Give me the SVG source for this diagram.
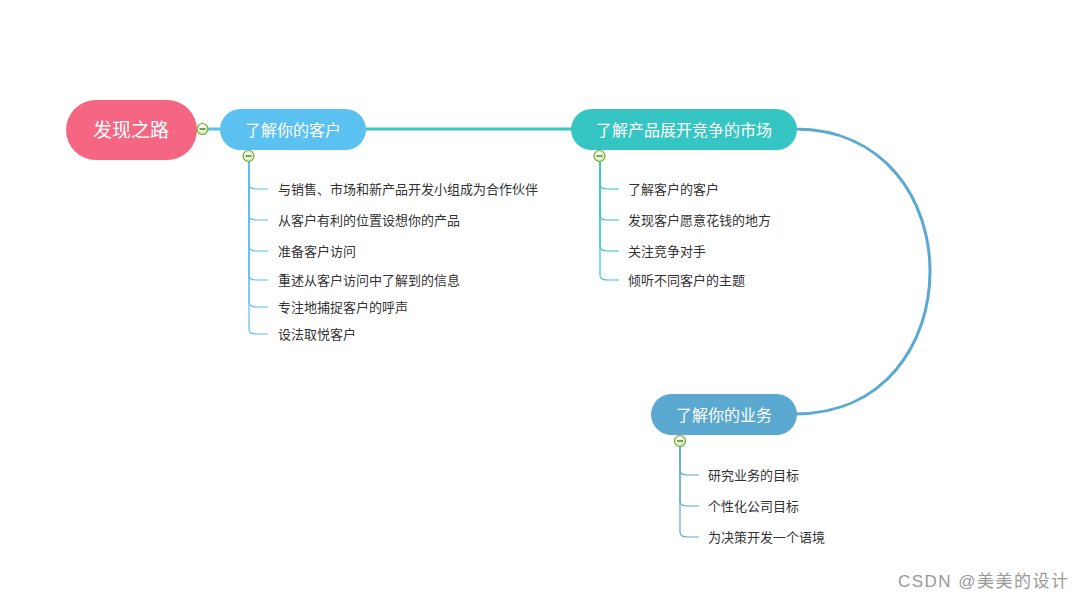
<svg xmlns="http://www.w3.org/2000/svg" width="1084" height="600" viewBox="0 0 1084 600">
<style>
.nt{font-family:"Liberation Sans","Noto Sans CJK SC",sans-serif;fill:#fff;text-anchor:middle;dominant-baseline:central}
.ct{font-family:"Liberation Sans","Noto Sans CJK SC",sans-serif;fill:#333;font-size:13px;dominant-baseline:central}
.br{fill:none;stroke-width:1.2}
.tg circle{fill:url(#g);stroke:#6AAB2E;stroke-width:1.2}
.tg line{stroke:#3d6e16;stroke-width:1.3}
</style>
<defs>
<radialGradient id="g" cx="0.4" cy="0.35" r="0.7"><stop offset="0" stop-color="#ffffff"/><stop offset="1" stop-color="#cfe8b0"/></radialGradient>
</defs>
<rect width="1084" height="600" fill="#fff"/>
<g id="connectors">
<line x1="197" y1="129" x2="222" y2="129" stroke="#5BC0F0" stroke-width="3"/>
<line x1="364" y1="129" x2="573" y2="129" stroke="#37C6C0" stroke-width="3"/>
<path d="M795,129 C975,129 975,414 795,414" fill="none" stroke="#5AA9D3" stroke-width="3"/>
<g class="br" stroke="#5BC0F0">
<path d="M249,162 V184 Q249,189 256,189 H268"/>
<path d="M249,162 V215 Q249,220 256,220 H268"/>
<path d="M249,162 V246 Q249,251 256,251 H268"/>
<path d="M249,162 V275 Q249,280 256,280 H268"/>
<path d="M249,162 V302 Q249,307 256,307 H268"/>
<path d="M249,162 V329 Q249,334 256,334 H268"/>
</g>
<g class="br" stroke="#37C6C0">
<path d="M600,162 V184 Q600,189 607,189 H619"/>
<path d="M600,162 V215 Q600,220 607,220 H619"/>
<path d="M600,162 V246 Q600,251 607,251 H619"/>
<path d="M600,162 V275 Q600,280 607,280 H619"/>
</g>
<g class="br" stroke="#5BA8D0">
<path d="M680,447 V470 Q680,475 687,475 H699"/>
<path d="M680,447 V501 Q680,506 687,506 H699"/>
<path d="M680,447 V532 Q680,537 687,537 H699"/>
</g>
</g>
<g id="root">
<rect x="66" y="100" width="131" height="60" rx="30" fill="#F46681"/>
<text class="nt" x="131" y="130" font-size="19">发现之路</text>
</g>
<g id="node1">
<rect x="220" y="109" width="146" height="41" rx="20.5" fill="#5BC1F1"/>
<text class="nt" x="293" y="130" font-size="16">了解你的客户</text>
</g>
<g id="node2">
<rect x="571" y="109" width="226" height="41" rx="20.5" fill="#35C6C3"/>
<text class="nt" x="684" y="130" font-size="16">了解产品展开竞争的市场</text>
</g>
<g id="node3">
<rect x="651" y="394" width="146" height="41" rx="20.5" fill="#5BA9D1"/>
<text class="nt" x="724" y="415" font-size="16">了解你的业务</text>
</g>
<g id="toggles" class="tg">
<circle cx="202.5" cy="129" r="5.5"/><line x1="199.5" y1="129" x2="205.5" y2="129"/>
<circle cx="248.5" cy="156" r="5.5"/><line x1="245.5" y1="156" x2="251.5" y2="156"/>
<circle cx="599.5" cy="156" r="5.5"/><line x1="596.5" y1="156" x2="602.5" y2="156"/>
<circle cx="680" cy="441" r="5.5"/><line x1="677" y1="441" x2="683" y2="441"/>
</g>
<g id="children1">
<text class="ct" x="278" y="189">与销售、市场和新产品开发小组成为合作伙伴</text>
<text class="ct" x="278" y="220">从客户有利的位置设想你的产品</text>
<text class="ct" x="278" y="251">准备客户访问</text>
<text class="ct" x="278" y="280">重述从客户访问中了解到的信息</text>
<text class="ct" x="278" y="307">专注地捕捉客户的呼声</text>
<text class="ct" x="278" y="334">设法取悦客户</text>
</g>
<g id="children2">
<text class="ct" x="628" y="189">了解客户的客户</text>
<text class="ct" x="628" y="220">发现客户愿意花钱的地方</text>
<text class="ct" x="628" y="251">关注竞争对手</text>
<text class="ct" x="628" y="280">倾听不同客户的主题</text>
</g>
<g id="children3">
<text class="ct" x="708" y="475">研究业务的目标</text>
<text class="ct" x="708" y="506">个性化公司目标</text>
<text class="ct" x="708" y="537">为决策开发一个语境</text>
</g>
<text x="898" y="581" font-family="Liberation Sans,'Noto Sans CJK SC',sans-serif" font-size="17" fill="#999" textLength="170" lengthAdjust="spacing" dominant-baseline="central">CSDN @美美的设计</text>
</svg>
